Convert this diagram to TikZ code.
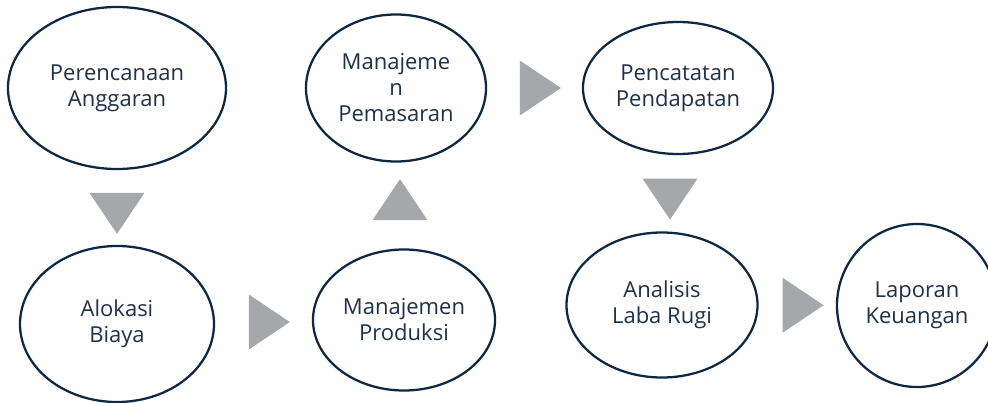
\documentclass[tikz,border=0pt]{standalone}
\usepackage{fontspec}
\setmainfont{Open Sans}
\usetikzlibrary{shapes.geometric,calc}
\definecolor{inkblue}{HTML}{0E2841}
\definecolor{textblue}{HTML}{1F3048}
\definecolor{arrowgray}{HTML}{A6A7AB}

\begin{document}
\begin{tikzpicture}[x=0.75pt,y=-0.75pt,
  stage/.style={ellipse, draw=inkblue, line width=1.7pt, inner sep=0pt,
    align=center, text=textblue, font=\fontsize{16.5}{19.5}\selectfont},
  flow/.style={isosceles triangle, isosceles triangle stretches, fill=arrowgray,
    inner sep=0pt, minimum width=41.25pt, minimum height=30.75pt}]
\useasboundingbox (0,0) rectangle (988,403);
\clip (0,0) rectangle (988,403);
% stages
\node[stage, minimum width=163.5pt, minimum height=121.5pt] (plan) at (117,88) {Perencanaan\\Anggaran};
\node[stage, minimum width=145.5pt, minimum height=117pt] (alloc) at (117,324) {Alokasi\\Biaya};
\node[stage, minimum width=136.5pt, minimum height=105.75pt] (prod) at (404,320) {Manajemen\\Produksi};
\node[stage, minimum width=135pt, minimum height=110.25pt] (market) at (396,88) {Manajeme\\n\\Pemasaran};
\node[stage, minimum width=142.5pt, minimum height=99pt] (income) at (678,88) {Pencatatan\\Pendapatan};
\node[stage, minimum width=143.25pt, minimum height=108.75pt] (profit) at (662,305) {Analisis\\Laba Rugi};
\node[stage, minimum width=120pt, minimum height=122.25pt] (report) at (917,305.5) {Laporan\\Keuangan};
% grey arrow heads halfway between stages
\node[flow, rotate=-90] (f1) at ($(plan.south)!0.5!(alloc.north)$) {};
\node[flow] (f2) at ($(alloc.east)!0.5!(prod.west)$) {};
\node[flow, rotate=90] (f3) at ($(prod.north)!0.5!(market.south)$) {};
\node[flow] (f4) at ($(market.east)!0.5!(income.west)$) {};
\node[flow, rotate=-90] (f5) at ($(income.south)!0.5!(profit.north)$) {};
\node[flow] (f6) at ($(profit.east)!0.5!(report.west)$) {};
\end{tikzpicture}
\end{document}
